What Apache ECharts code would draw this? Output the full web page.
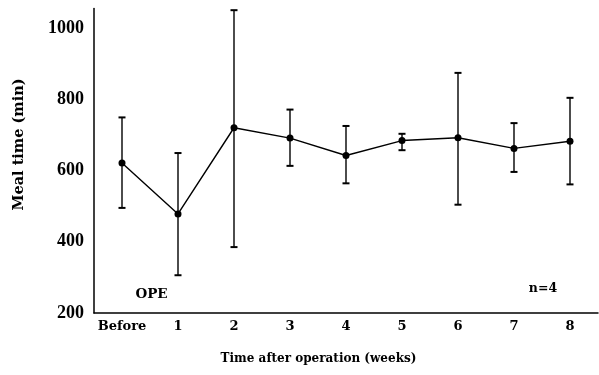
<!DOCTYPE html>
<html>
<head>
<meta charset="utf-8">
<script src="https://cdn.jsdelivr.net/npm/echarts@6/dist/echarts.min.js"></script>
<style>html,body{margin:0;padding:0;background:#fff;}#c{width:599px;height:375px;}</style>
</head>
<body>
<div id="c"></div>
<script>
var categories = ['Before', '1', '2', '3', '4', '5', '6', '7', '8'];
var meanValues = [621, 478, 720, 691, 642, 684, 692, 662, 682];
var upperValues = [749, 649, 1050, 771, 725, 703, 874, 733, 804];
var lowerValues = [495, 306, 385, 613, 564, 657, 504, 596, 561];
var yTicks = [200, 400, 600, 800, 1000];

var SERIF = '"Liberation Serif", "DejaVu Serif", serif';
var WIDE = '"DejaVu Serif", serif';
var chart = echarts.init(document.getElementById('c'));
var errData = categories.map(function (c, i) { return [i, lowerValues[i], upperValues[i]]; });

chart.setOption({
  animation: false,
  backgroundColor: '#fff',
  grid: { left: 94, right: 1, top: 8.4, bottom: 62, containLabel: false },
  xAxis: {
    type: 'category',
    data: categories,
    boundaryGap: true,
    axisLine: { lineStyle: { color: '#000', width: 1.5 } },
    axisTick: { inside: true, alignWithLabel: true, interval: 0, length: 5, lineStyle: { color: '#000', width: 1.2 } },
    axisLabel: { color: '#000', fontFamily: WIDE, fontWeight: 'bold', fontSize: 13, margin: 7, interval: 0, hideOverlap: false },
    splitLine: { show: false }
  },
  yAxis: {
    type: 'value',
    min: 200,
    max: 1055,
    interval: 200,
    axisLine: { show: true, lineStyle: { color: '#000', width: 1.5 } },
    axisTick: { show: false },
    splitLine: { show: false },
    axisLabel: {
      color: '#000', fontFamily: SERIF, fontWeight: 'bold', fontSize: 18, margin: 10,
      formatter: function (v) { return yTicks.indexOf(v) >= 0 ? String(v) : ''; }
    }
  },
  graphic: [
    { type: 'text', x: 318.5, y: 359, style: { text: 'Time after operation (weeks)', font: 'bold 12px ' + WIDE, fill: '#000', textAlign: 'center', textVerticalAlign: 'middle' } },
    { type: 'text', x: 19.5, y: 144.5, rotation: Math.PI / 2, style: { text: 'Meal time (min)', font: 'bold 14.5px ' + WIDE, fill: '#000', textAlign: 'center', textVerticalAlign: 'middle' } },
    { type: 'text', x: 151.5, y: 294.5, style: { text: 'OPE', font: 'bold 13.5px ' + WIDE, fill: '#000', textAlign: 'center', textVerticalAlign: 'middle' } },
    { type: 'text', x: 543, y: 289, style: { text: 'n=4', font: 'bold 12.5px ' + WIDE, fill: '#000', textAlign: 'center', textVerticalAlign: 'middle' } }
  ],
  series: [
    {
      type: 'custom',
      data: errData,
      renderItem: function (params, api) {
        var x = api.value(0);
        var lo = api.coord([x, api.value(1)]);
        var hi = api.coord([x, api.value(2)]);
        var w = 3.5;
        var st = { stroke: '#000', lineWidth: 1.4 };
        return {
          type: 'group',
          children: [
            { type: 'line', shape: { x1: hi[0], y1: hi[1], x2: lo[0], y2: lo[1] }, style: st },
            { type: 'line', shape: { x1: hi[0] - w, y1: hi[1], x2: hi[0] + w, y2: hi[1] }, style: { stroke: '#000', lineWidth: 2 } },
            { type: 'line', shape: { x1: lo[0] - w, y1: lo[1], x2: lo[0] + w, y2: lo[1] }, style: { stroke: '#000', lineWidth: 2 } }
          ]
        };
      },
      z: 1
    },
    {
      type: 'line',
      data: meanValues,
      symbol: 'circle',
      symbolSize: 7,
      itemStyle: { color: '#000' },
      lineStyle: { color: '#000', width: 1.4 },
      z: 2
    }
  ]
});
</script>
</body>
</html>
